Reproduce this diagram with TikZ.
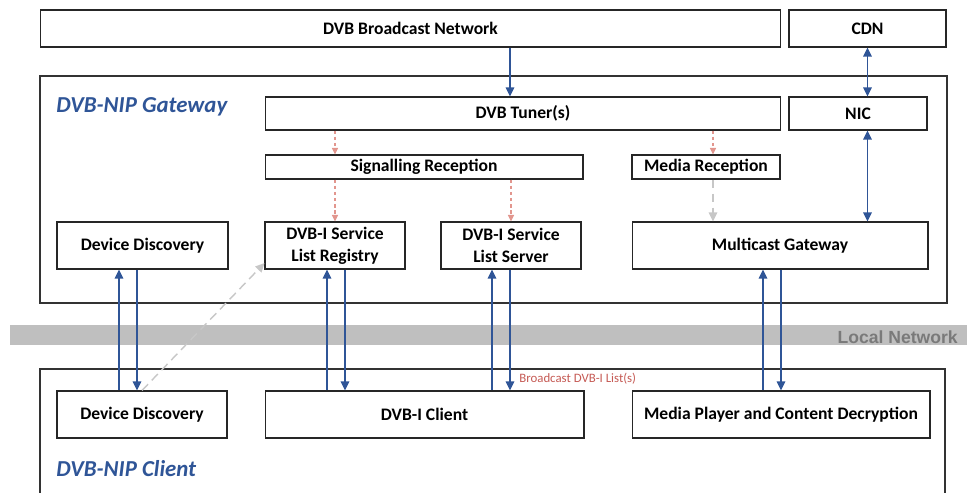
\documentclass[tikz,border=0pt]{standalone}
\usepackage{fontspec}
\setmainfont{Carlito}
\newfontfamily\lanfont{Liberation Sans}
\usetikzlibrary{arrows.meta}

\definecolor{nipblue}{RGB}{47,85,151}
\definecolor{sigpink}{RGB}{226,150,142}
\definecolor{netgray}{RGB}{191,191,191}
\definecolor{listred}{RGB}{197,90,84}

\tikzstyle{block}=[rectangle, draw=black!85, line width=0.6pt, fill=white, align=center, inner sep=2pt, font=\bfseries\fontsize{10}{12.5}\selectfont]
\tikzstyle{boundary}=[draw=black!80, line width=0.6pt]
\tikzstyle{boxtitle}=[anchor=west, inner sep=0pt, text=nipblue, font=\bfseries\itshape\fontsize{13}{15}\selectfont]
\tikzstyle{link}=[-{Triangle[length=1.8mm,width=1.7mm]}, nipblue, line width=0.8pt]
\tikzstyle{duplex}=[{Triangle[length=1.8mm,width=1.7mm]}-{Triangle[length=1.8mm,width=1.7mm]}, nipblue, line width=0.8pt]
\tikzstyle{feed}=[-{Triangle[length=1.3mm,width=1.2mm]}, sigpink, line width=0.6pt, dash pattern=on 2pt off 1.5pt]
\tikzstyle{hint}=[-{Triangle[length=1.8mm,width=1.7mm]}, black!22, line width=0.8pt, dash pattern=on 5pt off 3pt]

\begin{document}
\begin{tikzpicture}[x=0.02cm, y=-0.02cm]
\useasboundingbox (0,0) rectangle (967,493);

% local network band
\fill[netgray] (10,325) rectangle (967,345);
\node[anchor=east, inner sep=0pt, text=black!52, font=\lanfont\bfseries\fontsize{10}{12}\selectfont] (lan) at (958,337) {Local Network};

% gateway and client frames
\draw[boundary] (40,76) rectangle (947,303);
\draw[boundary] (40,493) -- (40,369) -- (945,369) -- (945,493);
\node[boxtitle] (gwtitle) at (56,107) {DVB-NIP Gateway};
\node[boxtitle] (cltitle) at (56,469) {DVB-NIP Client};

\node[block, minimum width=14.82cm, minimum height=0.74cm] (bcast) at (410.5,28.5) {DVB Broadcast Network};
\node[block, minimum width=3.14cm, minimum height=0.74cm] (cdn) at (867.5,28.5) {CDN};
\node[block, minimum width=10.32cm, minimum height=0.66cm] (tuner) at (523,113.5) {DVB Tuner(s)};
\node[block, minimum width=2.76cm, minimum height=0.66cm] (nic) at (858,113.5) {NIC};
\node[block, minimum width=6.36cm, minimum height=0.48cm] (sigrec) at (424,167) {Signalling Reception};
\node[block, minimum width=2.96cm, minimum height=0.48cm] (mediarec) at (706,167) {Media Reception};
\node[block, minimum width=3.42cm, minimum height=0.94cm] (ddgw) at (142.5,245.5) {Device Discovery};
\node[block, minimum width=2.80cm, minimum height=0.94cm] (registry) at (335,245.5) {DVB-I Service\\List Registry};
\node[block, minimum width=2.80cm, minimum height=0.94cm] (server) at (511,245.5) {DVB-I Service\\List Server};
\node[block, minimum width=5.92cm, minimum height=0.94cm] (mcgw) at (780,245.5) {Multicast Gateway};
\node[block, minimum width=3.40cm, minimum height=0.94cm] (ddcl) at (142,414.5) {Device Discovery};
\node[block, minimum width=6.38cm, minimum height=0.94cm] (dvbi) at (424.5,414.5) {DVB-I Client};
\node[block, minimum width=5.96cm, minimum height=0.94cm] (player) at (781,414.5) {Media Player and Content Decryption};

% broadcast side
\coordinate (xa) at (510,0);
\coordinate (xm) at (713,0);
\draw[link] (bcast.south -| xa) -- (tuner.north -| xa);
\draw[duplex] (cdn.south) -- (nic.north -| cdn.south);
\draw[duplex] (nic.south -| cdn.south) -- (mcgw.north -| cdn.south);
\draw[feed] (tuner.south -| registry.north) -- (sigrec.north -| registry.north);
\draw[feed] (tuner.south -| xm) -- (mediarec.north -| xm);
\draw[feed] (sigrec.south -| registry.north) -- (registry.north);
\draw[feed] (sigrec.south -| server.north) -- (server.north);
\draw[hint] (mediarec.south -| xm) -- (mcgw.north -| xm);

% across the local network
\foreach \lo/\hi/\up/\dn in {ddcl/ddgw/119/137, dvbi/registry/327/345, dvbi/server/492/510, player/mcgw/763/781}{
  \coordinate (u) at (\up,0);
  \coordinate (d) at (\dn,0);
  \draw[link] (\lo.north -| u) -- (\hi.south -| u);
  \draw[link] (\hi.south -| d) -- (\lo.north -| d);
}
\draw[hint] (ddcl.north) -- (registry.194);
\node[anchor=west, inner sep=0pt, text=listred, font=\fontsize{7.3}{9}\selectfont] (bclabel) at (519,379) {Broadcast DVB-I List(s)};
\end{tikzpicture}
\end{document}
